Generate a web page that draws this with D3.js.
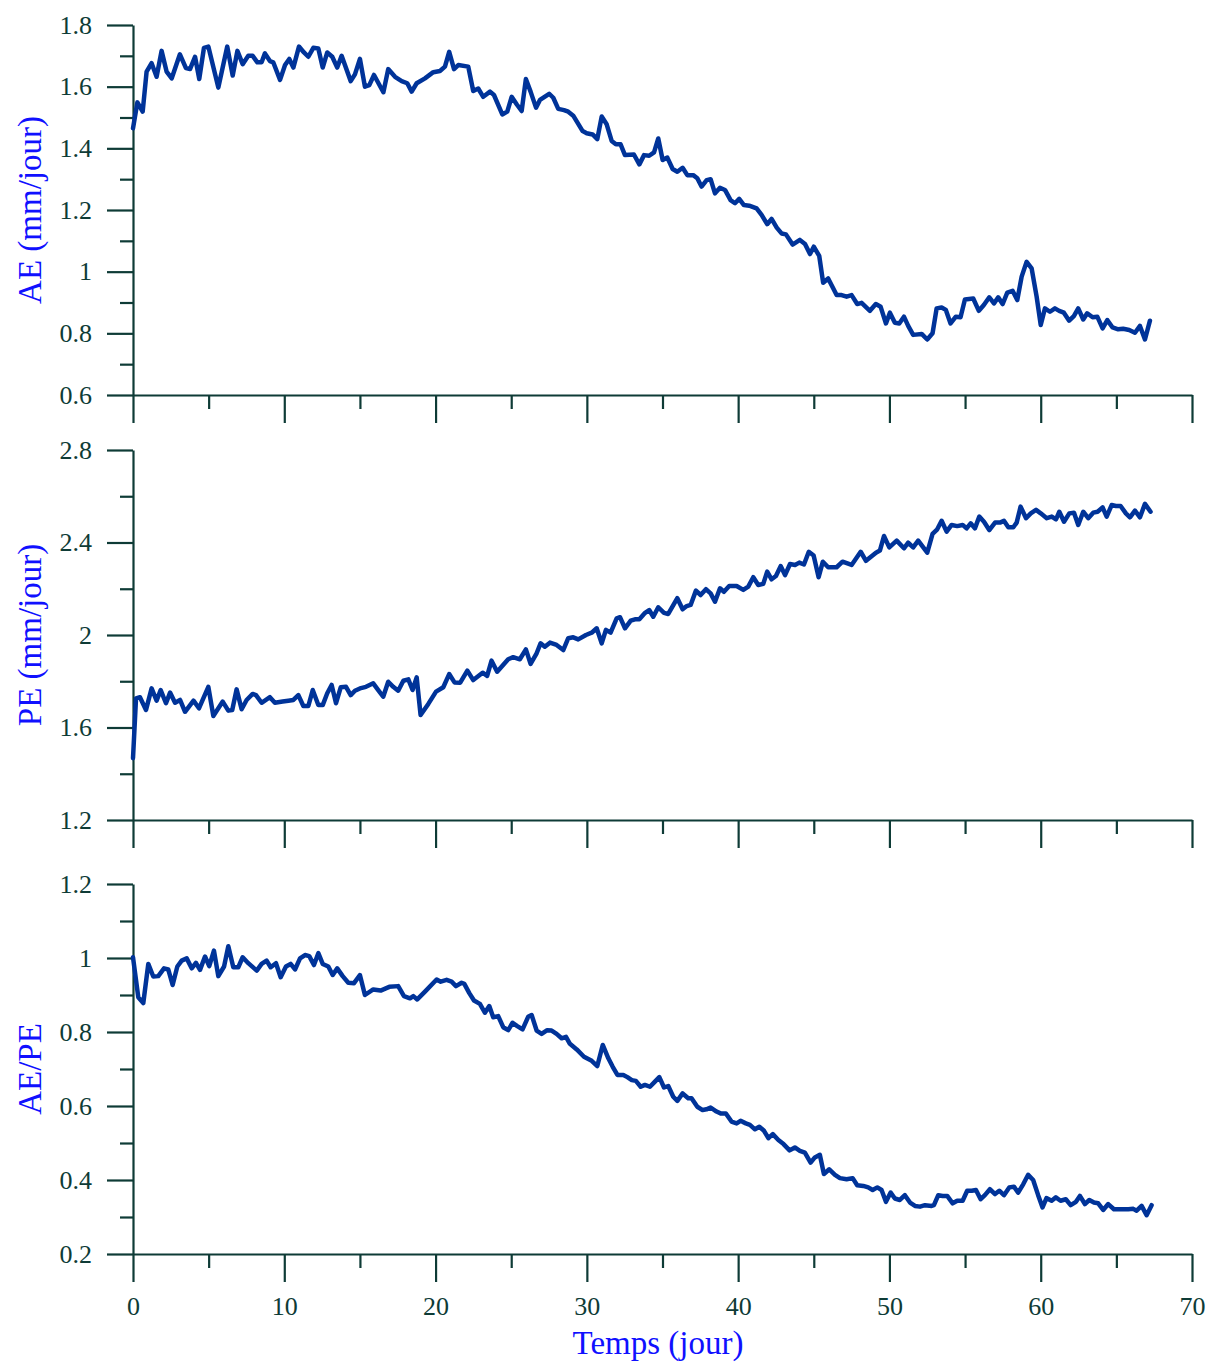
<!DOCTYPE html>
<html>
<head>
<meta charset="utf-8">
<script src="https://cdn.jsdelivr.net/npm/d3@7"></script>
<style>
  html, body { margin: 0; padding: 0; background: #ffffff; }
  svg { display: block; }
</style>
</head>
<body>
<svg id="chart" width="1215" height="1363"></svg>
<script>
// Actual evaporation (mm/jour) against time (jour)
const aeSeries = [
  [0,1.465],[0.29,1.549],[0.64,1.519],[0.9,1.649],[1.23,1.676],[1.56,1.632],[1.89,1.716],[2.22,1.649],
  [2.56,1.627],[3.1,1.705],[3.5,1.66],[3.77,1.657],[4.1,1.697],[4.38,1.625],[4.69,1.726],[4.98,1.73],
  [5.64,1.597],[6.23,1.73],[6.59,1.636],[6.9,1.716],[7.25,1.673],[7.62,1.70],[7.91,1.70],[8.22,1.679],
  [8.5,1.679],[8.72,1.708],[9.05,1.683],[9.27,1.679],[9.72,1.622],[10.05,1.67],[10.33,1.69],[10.6,1.662],
  [10.97,1.73],[11.3,1.711],[11.59,1.697],[11.92,1.726],[12.25,1.724],[12.54,1.662],[12.84,1.711],[13.17,1.697],
  [13.5,1.662],[13.79,1.70],[14.39,1.618],[14.67,1.64],[15.0,1.69],[15.33,1.60],[15.62,1.605],[15.93,1.638],
  [16.55,1.582],[16.87,1.657],[17.32,1.632],[17.76,1.618],[18.13,1.611],[18.42,1.584],[18.75,1.611],[19.3,1.627],
  [19.85,1.647],[20.29,1.651],[20.62,1.665],[20.9,1.713],[21.22,1.657],[21.5,1.67],[22.16,1.665],[22.49,1.586],
  [22.82,1.594],[23.15,1.567],[23.6,1.584],[23.86,1.573],[24.41,1.51],[24.74,1.519],[25.03,1.567],[25.36,1.543],
  [25.69,1.521],[25.97,1.625],[26.28,1.584],[26.64,1.532],[26.9,1.557],[27.51,1.577],[27.78,1.564],[28.11,1.528],
  [28.49,1.524],[28.77,1.519],[29.1,1.506],[29.72,1.456],[29.99,1.449],[30.38,1.445],[30.69,1.43],[30.98,1.503],
  [31.31,1.478],[31.64,1.424],[31.92,1.413],[32.23,1.413],[32.52,1.378],[33.11,1.38],[33.47,1.348],[33.78,1.378],
  [34.12,1.376],[34.44,1.387],[34.72,1.432],[35.01,1.362],[35.32,1.37],[35.67,1.333],[35.98,1.324],[36.33,1.337],
  [36.64,1.313],[37.03,1.313],[37.3,1.303],[37.58,1.276],[37.92,1.297],[38.18,1.30],[38.47,1.254],[38.8,1.272],
  [39.13,1.265],[39.5,1.232],[39.79,1.222],[40.07,1.236],[40.38,1.216],[40.73,1.214],[41.22,1.205],[41.55,1.184],
  [41.92,1.154],[42.21,1.171],[42.55,1.143],[42.87,1.124],[43.16,1.121],[43.6,1.088],[44.08,1.103],[44.42,1.09],
  [44.75,1.057],[45.0,1.081],[45.36,1.051],[45.62,0.964],[45.95,0.978],[46.51,0.924],[46.84,0.924],[47.17,0.919],
  [47.5,0.924],[47.87,0.895],[48.16,0.899],[48.71,0.873],[49.1,0.895],[49.42,0.886],[49.77,0.832],[50.03,0.867],
  [50.36,0.834],[50.65,0.832],[50.96,0.854],[51.24,0.824],[51.57,0.795],[52.13,0.798],[52.5,0.78],[52.85,0.80],
  [53.12,0.881],[53.45,0.884],[53.73,0.876],[54.04,0.832],[54.39,0.854],[54.7,0.852],[54.99,0.91],[55.54,0.913],
  [55.91,0.873],[56.24,0.892],[56.6,0.917],[56.91,0.897],[57.19,0.917],[57.48,0.895],[57.79,0.932],[58.14,0.938],
  [58.45,0.908],[58.74,0.984],[59.07,1.032],[59.4,1.011],[59.73,0.919],[60.0,0.827],[60.28,0.881],[60.61,0.87],
  [60.94,0.881],[61.22,0.873],[61.53,0.867],[61.88,0.841],[62.19,0.856],[62.48,0.881],[62.81,0.845],[63.07,0.865],
  [63.43,0.852],[63.74,0.854],[64.09,0.816],[64.4,0.843],[64.75,0.819],[65.12,0.813],[65.45,0.815],[65.85,0.811],
  [66.23,0.802],[66.56,0.824],[66.89,0.78],[67.22,0.841]
];

// Potential evaporation (mm/jour)
const peSeries = [
  [0,1.467],[0.2,1.726],[0.46,1.731],[0.86,1.676],[1.23,1.769],[1.56,1.716],[1.83,1.762],[2.18,1.705],
  [2.45,1.751],[2.78,1.707],[3.11,1.719],[3.44,1.668],[4.0,1.716],[4.36,1.683],[4.98,1.776],[5.31,1.65],
  [5.93,1.712],[6.3,1.673],[6.56,1.676],[6.85,1.765],[7.18,1.679],[7.51,1.719],[7.91,1.745],[8.13,1.74],
  [8.5,1.707],[9.05,1.731],[9.38,1.707],[9.89,1.712],[10.27,1.716],[10.6,1.719],[10.93,1.74],[11.26,1.693],
  [11.59,1.693],[11.88,1.762],[12.25,1.697],[12.54,1.697],[12.84,1.748],[13.13,1.784],[13.42,1.705],[13.73,1.774],
  [14.08,1.776],[14.39,1.74],[14.67,1.759],[15.0,1.769],[15.4,1.776],[15.88,1.791],[16.21,1.762],[16.54,1.733],
  [16.87,1.798],[17.2,1.776],[17.53,1.759],[17.87,1.802],[18.2,1.808],[18.48,1.762],[18.75,1.817],[19.01,1.654],
  [19.52,1.702],[20.03,1.755],[20.51,1.774],[20.9,1.831],[21.25,1.795],[21.63,1.794],[22.1,1.846],[22.49,1.805],
  [23.11,1.837],[23.41,1.823],[23.7,1.889],[24.07,1.841],[24.8,1.895],[25.13,1.904],[25.57,1.895],[25.97,1.938],
  [26.28,1.875],[26.68,1.921],[26.94,1.964],[27.22,1.949],[27.56,1.967],[28.0,1.957],[28.44,1.935],[28.77,1.986],
  [29.1,1.99],[29.43,1.981],[29.94,2.0],[30.32,2.01],[30.65,2.029],[30.98,1.964],[31.26,2.022],[31.57,2.01],
  [31.97,2.072],[32.19,2.077],[32.52,2.029],[32.9,2.062],[33.18,2.068],[33.47,2.068],[33.85,2.096],[34.12,2.108],
  [34.39,2.079],[34.72,2.12],[35.1,2.096],[35.38,2.091],[35.98,2.159],[36.33,2.111],[36.6,2.125],[36.86,2.13],
  [37.21,2.192],[37.52,2.173],[37.87,2.198],[38.18,2.18],[38.47,2.144],[38.8,2.202],[39.06,2.187],[39.41,2.212],
  [39.9,2.212],[40.34,2.195],[40.67,2.209],[41.0,2.25],[41.33,2.216],[41.66,2.221],[41.92,2.274],[42.21,2.241],
  [42.5,2.255],[42.81,2.298],[43.1,2.259],[43.43,2.307],[43.76,2.303],[44.04,2.313],[44.35,2.305],[44.67,2.36],
  [44.99,2.344],[45.32,2.25],[45.6,2.317],[45.95,2.293],[46.51,2.293],[46.9,2.317],[47.5,2.303],[48.1,2.36],
  [48.45,2.321],[49.11,2.356],[49.37,2.365],[49.64,2.428],[49.99,2.379],[50.48,2.408],[50.96,2.375],[51.24,2.399],
  [51.57,2.379],[51.9,2.408],[52.5,2.356],[52.85,2.437],[53.16,2.457],[53.45,2.494],[53.78,2.447],[54.11,2.476],
  [54.48,2.471],[54.84,2.476],[55.1,2.461],[55.37,2.483],[55.65,2.461],[55.94,2.512],[56.25,2.49],[56.6,2.454],
  [56.98,2.486],[57.31,2.486],[57.57,2.494],[57.86,2.466],[58.19,2.466],[58.41,2.486],[58.67,2.555],[59.03,2.505],
  [59.34,2.526],[59.69,2.541],[60.0,2.526],[60.4,2.505],[60.73,2.512],[61.01,2.5],[61.23,2.533],[61.54,2.49],
  [61.89,2.526],[62.2,2.529],[62.48,2.476],[62.81,2.533],[63.14,2.505],[63.47,2.529],[63.76,2.533],[64.09,2.552],
  [64.36,2.512],[64.69,2.562],[64.97,2.558],[65.28,2.558],[65.63,2.526],[65.9,2.509],[66.23,2.538],[66.56,2.509],
  [66.89,2.567],[67.26,2.533]
];

// Ratio AE/PE
const ratioSeries = [
  [0,1.002],[0.35,0.894],[0.68,0.878],[1.01,0.984],[1.34,0.95],[1.67,0.951],[2.05,0.972],[2.33,0.969],
  [2.62,0.927],[2.93,0.977],[3.22,0.993],[3.55,0.999],[3.88,0.972],[4.16,0.987],[4.43,0.968],[4.76,1.004],
  [5.04,0.978],[5.35,1.02],[5.64,0.951],[6.02,0.977],[6.3,1.032],[6.63,0.975],[6.96,0.975],[7.25,1.002],
  [7.62,0.986],[8.18,0.966],[8.5,0.984],[8.83,0.993],[9.1,0.975],[9.45,0.986],[9.76,0.948],[10.11,0.977],
  [10.42,0.984],[10.71,0.969],[11.04,0.999],[11.37,1.008],[11.65,1.005],[11.96,0.981],[12.25,1.013],[12.54,0.984],
  [12.91,0.977],[13.2,0.954],[13.5,0.972],[13.86,0.951],[14.23,0.933],[14.61,0.932],[15.0,0.954],[15.33,0.9],
  [15.88,0.915],[16.37,0.912],[16.94,0.922],[17.53,0.924],[17.91,0.897],[18.31,0.891],[18.53,0.897],[18.79,0.888],
  [19.3,0.909],[20.07,0.942],[20.34,0.936],[20.73,0.941],[21.06,0.936],[21.35,0.924],[21.72,0.933],[21.9,0.93],
  [22.23,0.905],[22.54,0.885],[22.93,0.876],[23.26,0.852],[23.55,0.87],[23.81,0.84],[24.14,0.843],[24.47,0.813],
  [24.8,0.805],[25.09,0.825],[25.4,0.816],[25.75,0.807],[26.12,0.841],[26.35,0.846],[26.68,0.804],[27.01,0.795],
  [27.38,0.805],[27.67,0.804],[28.0,0.795],[28.33,0.783],[28.62,0.787],[28.88,0.768],[29.33,0.753],[29.81,0.733],
  [30.32,0.722],[30.69,0.708],[31.05,0.765],[31.42,0.729],[31.71,0.706],[32.02,0.684],[32.41,0.684],[32.68,0.678],
  [32.97,0.67],[33.24,0.668],[33.56,0.652],[33.84,0.657],[34.17,0.652],[34.5,0.666],[34.79,0.678],[35.1,0.65],
  [35.38,0.654],[35.71,0.625],[35.98,0.614],[36.33,0.634],[36.7,0.621],[36.92,0.621],[37.3,0.598],[37.65,0.589],
  [37.91,0.591],[38.18,0.596],[38.57,0.585],[38.84,0.58],[39.19,0.58],[39.56,0.558],[39.9,0.553],[40.16,0.56],
  [40.51,0.553],[40.78,0.549],[41.11,0.537],[41.4,0.544],[41.71,0.533],[42.0,0.513],[42.29,0.524],[42.66,0.508],
  [43.0,0.497],[43.4,0.48],[43.75,0.488],[44.08,0.479],[44.41,0.474],[44.79,0.447],[45.07,0.461],[45.4,0.468],
  [45.67,0.416],[46.02,0.429],[46.4,0.414],[46.73,0.405],[47.17,0.402],[47.57,0.405],[47.87,0.386],[48.27,0.384],
  [48.6,0.38],[48.89,0.373],[49.2,0.38],[49.48,0.373],[49.77,0.341],[50.08,0.366],[50.36,0.35],[50.69,0.346],
  [51.02,0.359],[51.36,0.339],[51.69,0.33],[52.02,0.328],[52.35,0.332],[52.79,0.33],[52.94,0.332],[53.23,0.359],
  [53.52,0.357],[53.82,0.357],[54.18,0.337],[54.48,0.344],[54.84,0.344],[55.14,0.371],[55.44,0.371],[55.72,0.373],
  [56.03,0.348],[56.31,0.359],[56.64,0.375],[56.98,0.362],[57.26,0.371],[57.57,0.359],[57.92,0.38],[58.23,0.382],
  [58.51,0.366],[58.85,0.389],[59.17,0.414],[59.5,0.4],[59.83,0.359],[60.12,0.326],[60.38,0.351],[60.72,0.344],
  [61.0,0.353],[61.31,0.344],[61.66,0.348],[61.98,0.332],[62.33,0.341],[62.59,0.357],[62.92,0.335],[63.21,0.346],
  [63.52,0.339],[63.8,0.337],[64.13,0.319],[64.46,0.335],[64.84,0.321],[65.24,0.321],[65.79,0.321],[66.12,0.322],
  [66.34,0.317],[66.67,0.33],[67.0,0.305],[67.33,0.332]
];

// Axis ticks and titles
const timeMajorTicks = [0, 10, 20, 30, 40, 50, 60, 70];
const timeMinorTicks = [5, 15, 25, 35, 45, 55, 65];
const aeMajorTicks = [0.6, 0.8, 1, 1.2, 1.4, 1.6, 1.8];
const aeMinorTicks = [0.7, 0.9, 1.1, 1.3, 1.5, 1.7];
const peMajorTicks = [1.2, 1.6, 2, 2.4, 2.8];
const peMinorTicks = [1.4, 1.8, 2.2, 2.6];
const ratioMajorTicks = [0.2, 0.4, 0.6, 0.8, 1, 1.2];
const ratioMinorTicks = [0.3, 0.5, 0.7, 0.9, 1.1];
const panelTitles = ["AE (mm/jour)", "PE (mm/jour)", "AE/PE"];
const timeTitle = "Temps (jour)";

const axisColor = "#0e3b36";
const titleColor = "#1010ff";
const lineColor = "#003399";
const fontFamily = "'Liberation Serif', 'Times New Roman', serif";

const svg = d3.select("#chart");

const x = d3.scaleLinear().domain([0, 70]).range([133, 1192]);

const panels = [
  { series: aeSeries, domain: [0.6, 1.8], range: [395, 25], major: aeMajorTicks, minor: aeMinorTicks, title: panelTitles[0] },
  { series: peSeries, domain: [1.2, 2.8], range: [820, 450], major: peMajorTicks, minor: peMinorTicks, title: panelTitles[1] },
  { series: ratioSeries, domain: [0.2, 1.2], range: [1254, 884], major: ratioMajorTicks, minor: ratioMinorTicks, title: panelTitles[2] }
];

function styleAxis(g) {
  g.selectAll("path.domain").attr("stroke", axisColor).attr("stroke-width", 2.2);
  g.selectAll(".tick line").attr("stroke", axisColor).attr("stroke-width", 2.2);
  g.selectAll(".tick text")
    .attr("fill", axisColor)
    .style("font-family", fontFamily)
    .style("font-size", "26px");
}

panels.forEach((p, i) => {
  const y = d3.scaleLinear().domain(p.domain).range(p.range);
  const g = svg.append("g");
  const isLast = i === panels.length - 1;

  // minor y ticks
  g.append("g")
    .attr("transform", `translate(${x(0)},0)`)
    .call(d3.axisLeft(y).tickValues(p.minor).tickSize(13).tickFormat(""))
    .call(a => a.select("path.domain").remove())
    .call(styleAxis);

  // major y ticks with labels
  g.append("g")
    .attr("transform", `translate(${x(0)},0)`)
    .call(d3.axisLeft(y).tickValues(p.major).tickSize(26).tickSizeOuter(0).tickPadding(15).tickFormat(d => String(d)))
    .call(styleAxis);

  // minor x ticks
  g.append("g")
    .attr("transform", `translate(0,${p.range[0]})`)
    .call(d3.axisBottom(x).tickValues(timeMinorTicks).tickSize(14).tickFormat(""))
    .call(a => a.select("path.domain").remove())
    .call(styleAxis);

  // major x ticks
  g.append("g")
    .attr("transform", `translate(0,${p.range[0]})`)
    .call(d3.axisBottom(x).tickValues(timeMajorTicks).tickSize(28).tickSizeOuter(0).tickPadding(15)
      .tickFormat(isLast ? (d => String(d)) : ""))
    .call(styleAxis);

  // data line
  g.append("path")
    .datum(p.series)
    .attr("fill", "none")
    .attr("stroke", lineColor)
    .attr("stroke-width", 4.5)
    .attr("stroke-linejoin", "round")
    .attr("stroke-linecap", "round")
    .attr("d", d3.line().x(d => x(d[0])).y(d => y(d[1])));

  // y title
  const cy = (p.range[0] + p.range[1]) / 2;
  svg.append("text")
    .attr("transform", `translate(41,${cy}) rotate(-90)`)
    .attr("text-anchor", "middle")
    .attr("fill", titleColor)
    .style("font-family", fontFamily)
    .style("font-size", "33px")
    .text(p.title);
});

// x title
svg.append("text")
  .attr("x", 658)
  .attr("y", 1354)
  .attr("text-anchor", "middle")
  .attr("fill", titleColor)
  .style("font-family", fontFamily)
  .style("font-size", "33px")
  .text(timeTitle);
</script>
</body>
</html>
